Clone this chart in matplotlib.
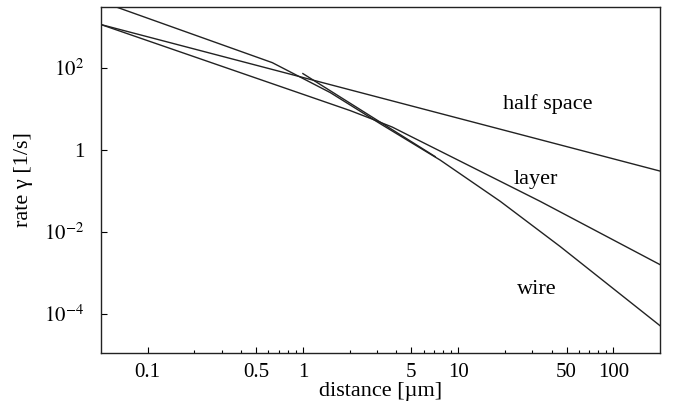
import matplotlib
matplotlib.use("Agg")
import matplotlib.pyplot as plt
from matplotlib.ticker import FixedLocator, NullFormatter, NullLocator

# values (distance in um, rate in 1/s)
half_x = [0.05, 200]
half_y = [1120, 0.3]

layer_x = [0.05, 2.02, 2.80, 3.77, 5.06, 7.67, 33.8, 200]
layer_y = [1120, 8.93, 5.54, 3.54, 2.02, 0.918, 0.0548, 1.57e-3]

wire_x = [0.05, 0.635, 1.5, 3.15, 7.67, 18.7, 45.4, 200]
wire_y = [4074, 132, 24.6, 4.28, 0.555, 0.0548, 4.36e-3, 5.1e-5]

# asymptote piece that starts at 1 um and runs along the wire curve
stub_x = [1.0, 7.12]
stub_y = [71.4, 0.675]

xticks = [0.1, 0.5, 1, 5, 10, 50, 100]
xtick_labels = ["0.1", "0.5", "1", "5", "10", "50", "100"]
yticks = [1e-4, 1e-2, 1, 1e2]
ytick_labels = [r"$10^{-4}$", r"$10^{-2}$", "1", r"$10^{2}$"]
xminor = [0.2, 0.3, 0.4, 0.6, 0.7, 0.8, 0.9,
          2, 3, 4, 6, 7, 8, 9,
          20, 30, 40, 60, 70, 80, 90]

plt.rcParams["font.family"] = ["Liberation Serif", "DejaVu Serif"]
plt.rcParams["mathtext.fontset"] = "stix"

fig = plt.figure(figsize=(6.8, 4.05), dpi=100)
ax = fig.add_axes([0.1485, 0.1284, 0.8221, 0.8543])

lw = 1.0
col = "#222222"
ax.plot(half_x, half_y, color=col, lw=lw)
ax.plot(layer_x, layer_y, color=col, lw=lw)
ax.plot(wire_x, wire_y, color=col, lw=lw)
ax.plot(stub_x, stub_y, color=col, lw=lw)

ax.set_xscale("log")
ax.set_yscale("log")
ax.set_xlim(0.05, 200)
ax.set_ylim(1.1e-5, 3e3)

ax.xaxis.set_major_locator(FixedLocator(xticks))
ax.set_xticklabels(xtick_labels)
ax.xaxis.set_minor_locator(FixedLocator(xminor))
ax.xaxis.set_minor_formatter(NullFormatter())
ax.yaxis.set_major_locator(FixedLocator(yticks))
ax.set_yticklabels(ytick_labels)
ax.yaxis.set_minor_locator(NullLocator())

ax.tick_params(which="both", direction="in", top=False, right=False,
               labelsize=15)
ax.tick_params(axis="x", pad=7)
ax.tick_params(axis="y", pad=12)
ax.tick_params(which="major", length=4, width=0.8)
ax.tick_params(which="minor", length=2.5, width=0.8)
for s in ax.spines.values():
    s.set_linewidth(1.0)
    s.set_color(col)

ax.set_xlabel("distance [\u00b5m]", fontsize=16, labelpad=0)
ax.set_ylabel("rate \u03b3 [1/s]", fontsize=16)
ax.yaxis.set_label_coords(-0.121, 0.5)

ax.text(38, 13.2, "half space", fontsize=16, ha="center", va="center")
ax.text(31.8, 0.186, "layer", fontsize=16, ha="center", va="center")
ax.text(32.3, 3.9e-4, "wire", fontsize=16, ha="center", va="center")

fig.savefig("out.png", dpi=100)
